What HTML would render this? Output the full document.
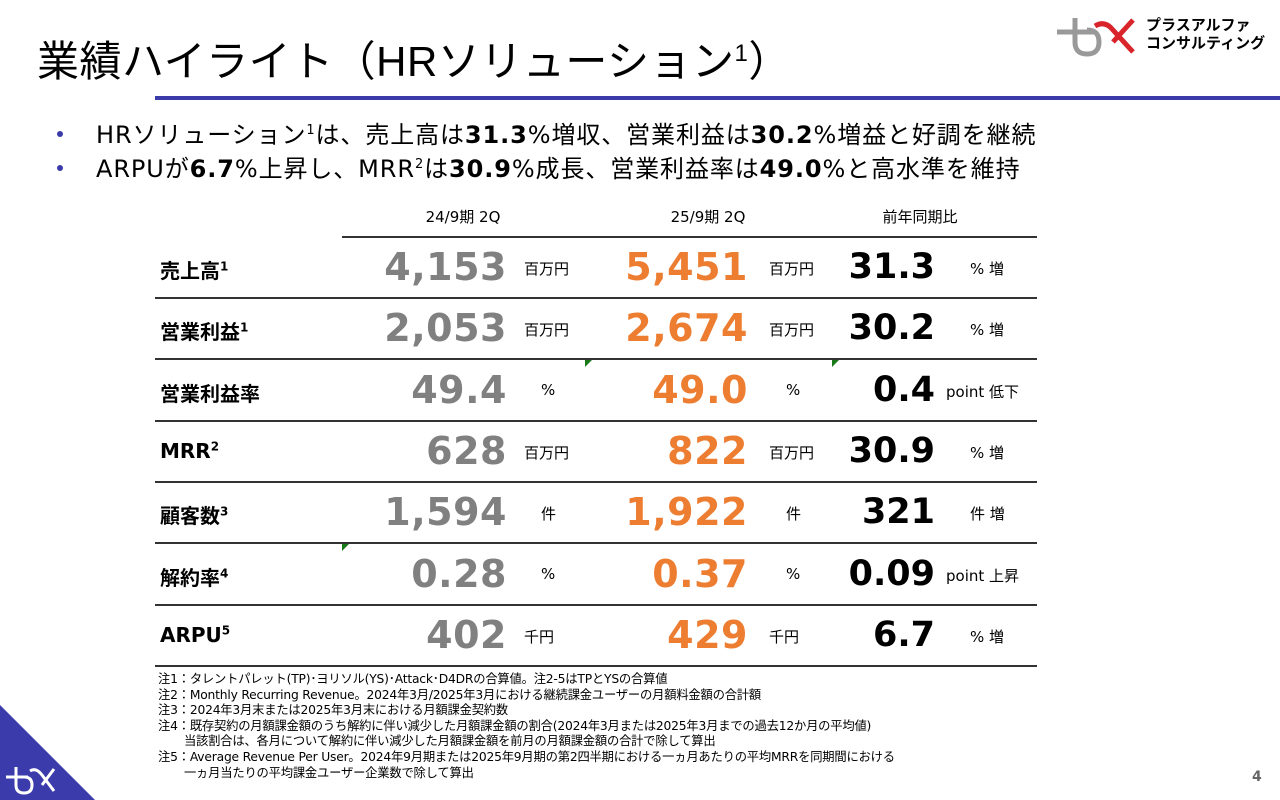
<!DOCTYPE html>
<html><head><meta charset="utf-8">
<style>
body{margin:0;width:1280px;height:800px;position:relative;overflow:hidden;background:#fff;font-family:"DejaVu Sans","Liberation Sans","Noto Sans CJK JP",sans-serif;color:#000}
.a{position:absolute;white-space:nowrap}
.title{left:37px;top:28px;font-size:42px;font-family:"Liberation Sans","Noto Sans CJK JP",sans-serif;letter-spacing:0.5px}
.bul{left:96px;font-size:24px;font-family:"DejaVu Sans","Noto Sans CJK JP",sans-serif;letter-spacing:0.9px}
.dot{left:57px;width:6px;height:6px;border-radius:3px;background:#3a3aa8}
.hline{background:#333;height:2px}
.lab{font-size:20px;font-weight:bold;font-family:"DejaVu Sans","Noto Sans CJK JP",sans-serif}
.lab sup{font-size:12px}
.num{font-size:38px;font-weight:bold;text-align:right;width:200px;font-family:"DejaVu Sans",sans-serif;letter-spacing:0.5px}
.unit{font-size:15px;font-family:"DejaVu Sans","Noto Sans CJK JP",sans-serif}
.hdr{font-size:15px;text-align:center;width:200px;font-family:"DejaVu Sans","Noto Sans CJK JP",sans-serif}
.fn{left:158px;font-size:12.3px;font-family:"DejaVu Sans","Noto Sans CJK JP",sans-serif;letter-spacing:-0.2px}
.tri{width:0;height:0;border-top:7px solid #1a7a1a;border-right:7px solid transparent}
</style></head><body>
<div class="a title">業績ハイライト（HRソリューション<sup style="font-size:24px">1</sup>）</div>
<div class="a" style="left:155px;top:96px;width:1125px;height:4px;background:#3a3aa8"></div>
<svg class="a" style="left:1055px;top:12px" width="90" height="48" viewBox="0 0 90 48">
<line x1="2" y1="20" x2="40" y2="20" stroke="#999" stroke-width="5"/>
<path d="M20 6 V30 Q20 42 32 42 Q44 42 44 30 Q44 18 32 18" fill="none" stroke="#999" stroke-width="5"/>
<path d="M40 14 Q50 8 58 18 L78 40 M58 30 L78 8" fill="none" stroke="#d8242a" stroke-width="5"/>
</svg>
<div class="a" style="left:1146px;top:16px;font-size:15px;font-weight:bold;line-height:18px;font-family:'Noto Sans CJK JP',sans-serif">プラスアルファ<br>コンサルティング</div>

<div class="a dot" style="top:131px"></div>
<div class="a bul" style="top:115px">HRソリューション<sup style="font-size:13px">1</sup>は、売上高は<b>31.3</b>%増収、営業利益は<b>30.2</b>%増益と好調を継続</div>
<div class="a dot" style="top:165px"></div>
<div class="a bul" style="top:149px">ARPUが<b>6.7</b>%上昇し、MRR<sup style="font-size:13px">2</sup>は<b>30.9</b>%成長、営業利益率は<b>49.0</b>%と高水準を維持</div>

<div class="a hdr" style="left:363px;top:206px">24/9期 2Q</div>
<div class="a hdr" style="left:608px;top:206px">25/9期 2Q</div>
<div class="a hdr" style="left:820px;top:206px">前年同期比</div>
<div class="a hline" style="left:342px;top:236px;width:695px"></div>

<div id="tbl"></div>

<div class="a fn" style="top:672px;line-height:15.6px">注1：タレントパレット(TP)･ヨリソル(YS)･Attack･D4DRの合算値。注2-5はTPとYSの合算値<br>注2：Monthly Recurring Revenue。2024年3月/2025年3月における継続課金ユーザーの月額料金額の合計額<br>注3：2024年3月末または2025年3月末における月額課金契約数<br>注4：既存契約の月額課金額のうち解約に伴い減少した月額課金額の割合(2024年3月または2025年3月までの過去12か月の平均値)<br>&nbsp;&nbsp;&nbsp;&nbsp;&nbsp;&nbsp;&nbsp;当該割合は、各月について解約に伴い減少した月額課金額を前月の月額課金額の合計で除して算出<br>注5：Average Revenue Per User。2024年9月期または2025年9月期の第2四半期における一ヵ月あたりの平均MRRを同期間における<br>&nbsp;&nbsp;&nbsp;&nbsp;&nbsp;&nbsp;&nbsp;一ヵ月当たりの平均課金ユーザー企業数で除して算出</div>

<svg class="a" style="left:0;top:705px" width="95" height="95">
<polygon points="0,0 95,95 0,95" fill="#3b3bab"/>
<g stroke="#fff" stroke-width="3" fill="none"><line x1="6" y1="72" x2="28" y2="72"/><path d="M16 62 V80 Q16 88 24 88 Q32 88 32 80 Q32 72 24 72"/><path d="M30 66 Q36 62 42 70 L54 86 M42 80 L54 64"/></g>
</svg>
<div class="a" style="left:1252px;top:769px;font-size:14px;font-weight:bold;color:#666">4</div>

<script>
const labels=["売上高","営業利益","営業利益率","MRR","顧客数","解約率","ARPU"];
const sups=["1","1","","2","3","4","5"];
const prevVals=["4,153","2,053","49.4","628","1,594","0.28","402"];
const currVals=["5,451","2,674","49.0","822","1,922","0.37","429"];
const yoyVals=["31.3","30.2","0.4","30.9","321","0.09","6.7"];
const units=["百万円","百万円","%","百万円","件","%","千円"];
const yoyUnits=["% 増","% 増","point 低下","% 増","件 増","point 上昇","% 増"];
const t=document.getElementById('tbl');
function mk(cls,left,top,html,style){const d=document.createElement('div');d.className='a '+cls;d.style.left=left+'px';d.style.top=top+'px';if(style)d.style.cssText+=style;d.innerHTML=html;t.appendChild(d);return d;}
labels.forEach((l,i)=>{
  const y=237+i*61.3;
  let e=mk('lab',160,y+18,l+(sups[i]?'<sup>'+sups[i]+'</sup>':''));
  
  
  e=mk('num',307,y+8,prevVals[i],'color:#808080');
  
  
  const uw=units[i].length>1?524:541;
  e=mk('unit',uw,y+21,units[i]);
  
  
  e=mk('num',548,y+8,currVals[i],'color:#ed7d31');
  
  
  e=mk('unit',units[i].length>1?769:786,y+21,units[i]);
  
  
  e=mk('num',735,y+8,yoyVals[i],'color:#000;font-size:35px;top:'+(y+10)+'px;letter-spacing:0');
  
  
  e=mk('unit',yoyUnits[i].length>4?946:970,y+21,yoyUnits[i]);
  
  
  e=mk('hline',155,y+60,'','width:882px');
  
  
});
[[585,360],[832,360],[342,544]].forEach(p=>{
  const e=mk('tri',p[0],p[1],'');
  
  
});
</script>
</body></html>
